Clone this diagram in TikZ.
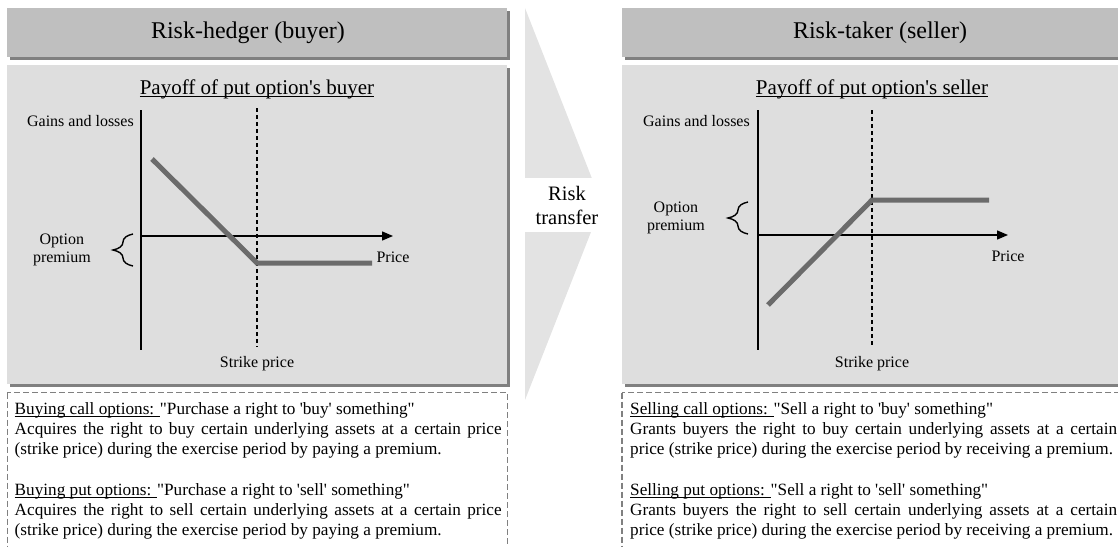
\documentclass[tikz,border=0pt]{standalone}
\usepackage{fontspec}
\setmainfont{Liberation Serif}[Ligatures=TeXOff]
\usetikzlibrary{positioning, arrows.meta, shadows, decorations.pathreplacing}

% underline drawn as a rule under the box
\newcommand\undl[2][2.4pt]{\setbox0=\hbox{#2}\rlap{\rule[-#1]{\wd0}{0.9pt}}\box0}

\begin{document}
\begin{tikzpicture}[
  x=1pt, y=-1pt,
  shade3/.style={drop shadow={shadow xshift=3pt, shadow yshift=-3pt, fill=black!50, opacity=1}},
  hdr/.style={fill=black!25, minimum height=49pt, inner sep=0pt, shade3},
  panel/.style={fill=black!13, minimum height=319pt, inner sep=0pt, shade3},
  hdrtxt/.style={font=\fontsize{24}{28}\selectfont, inner sep=0pt},
  ttl/.style={font=\fontsize{21}{25}\selectfont, anchor=base, inner sep=0pt},
  lbl/.style={font=\fontsize{16}{18}\selectfont, align=center, inner sep=0pt},
  axis/.style={line width=1.4pt},
  axisarr/.style={axis, -{Triangle[length=11pt, width=9pt]}},
  strike/.style={line width=1.3pt, dash pattern=on 4pt off 3pt},
  payoff/.style={line width=5pt, draw=black!58},
  prembrace/.style={line width=1.4pt, decorate, decoration={brace, amplitude=20pt}},
  descbox/.style={draw=black!50, line width=1.2pt, dash pattern=on 6pt off 3pt},
  desc/.style={font=\fontsize{17.2}{20}\selectfont, text width=487pt, align=justify, inner sep=0pt, anchor=north west},
  chev/.style={fill=black!11},
  rtbox/.style={fill=white, minimum width=84pt, minimum height=54pt, align=center, font=\fontsize{20.5}{24}\selectfont}
]
\useasboundingbox (0,0) rectangle (1118,546);

% Headers
\node[hdr, minimum width=500pt] (hdrB) at (257,32.5) {};
\node[hdrtxt] (hdrBtxt) at (248,33) {Risk-hedger (buyer)};
\node[hdr, minimum width=508pt] (hdrS) at (876,32.5) {};
\node[hdrtxt] (hdrStxt) at (880,33) {Risk-taker (seller)};

% Chart panels
\node[panel, minimum width=500pt] (panB) at (257,224.5) {};
\node[panel, minimum width=508pt] (panS) at (876,224.5) {};

% Risk transfer arrow
\fill[chev] (525,8) -- (602,204) -- (525,400) -- cycle;
\node[rtbox] (rt) at (567,205) {Risk\\transfer};

% Buyer chart
\node[ttl] (ttlB) at (257,94) {\undl[3pt]{Payoff of put option's buyer}};
\coordinate (oB) at (141,236);
\coordinate (yB1) at (141,110);
\coordinate (yB2) at (141,350);
\coordinate (xB) at (393,236);
\coordinate (kB1) at (257,108);
\coordinate (kB2) at (257,347);
\coordinate (pB1) at (152,159);
\coordinate (pB2) at (257,263);
\coordinate (pB3) at (372,263);
\coordinate (bB1) at (133,266);
\coordinate (bB2) at (133,234);
\coordinate (bBtip) at (113,250);
\draw[axis] (yB1) -- (yB2);
\draw[axisarr] (oB) -- (xB);
\draw[strike] (kB1) -- (kB2);
\draw[payoff] (pB1) -- (pB2) -- (pB3);
\draw[prembrace] (bB1) -- (bB2);
\node[lbl, anchor=base east] (gainB) at (134,126) {Gains and losses};
\node[lbl, left=22pt of bBtip] (premB) {Option\\premium};
\node[lbl, below=16pt of xB] (priceB) {Price};
\node[lbl, below=9pt of kB2] (strikeB) {Strike price};

% Seller chart
\node[ttl] (ttlS) at (872,94) {\undl[3pt]{Payoff of put option's seller}};
\coordinate (oS) at (758,235);
\coordinate (yS1) at (758,110);
\coordinate (yS2) at (758,350);
\coordinate (xS) at (1008,235);
\coordinate (kS1) at (872,110);
\coordinate (kS2) at (872,347);
\coordinate (pS1) at (768,305);
\coordinate (pS2) at (872,200);
\coordinate (pS3) at (989,200);
\coordinate (bS1) at (748,234);
\coordinate (bS2) at (748,202);
\coordinate (bStip) at (728,218);
\draw[axis] (yS1) -- (yS2);
\draw[axisarr] (oS) -- (xS);
\draw[strike] (kS1) -- (kS2);
\draw[payoff] (pS1) -- (pS2) -- (pS3);
\draw[prembrace] (bS1) -- (bS2);
\node[lbl, anchor=base east] (gainS) at (750,126) {Gains and losses};
\node[lbl, left=23pt of bStip] (premS) {Option\\premium};
\node[lbl, below=16pt of xS] (priceS) {Price};
\node[lbl, below=9pt of kS2] (strikeS) {Strike price};

% Descriptions
\draw[descbox] (7.3,392.5) rectangle (507.5,560);
\draw[descbox] (622,392.5) rectangle (1140,560);
\node[desc] (descB) at (14.5,402.2) {\undl{Buying call options: }"Purchase a right to 'buy' something"\\
Acquires the right to buy certain underlying assets at a certain price\linebreak (strike price) during the exercise period by paying a premium.\\[21pt]
\undl{Buying put options: }"Purchase a right to 'sell' something"\\
Acquires the right to sell certain underlying assets at a certain price\linebreak (strike price) during the exercise period by paying a premium.};
\node[desc] (descS) at (630,402.2) {\undl{Selling call options: }"Sell a right to 'buy' something"\\
Grants buyers the right to buy certain underlying assets at a certain\linebreak price (strike price) during the exercise period by receiving a premium.\\[21pt]
\undl{Selling put options: }"Sell a right to 'sell' something"\\
Grants buyers the right to sell certain underlying assets at a certain\linebreak price (strike price) during the exercise period by receiving a premium.};

\end{tikzpicture}
\end{document}
